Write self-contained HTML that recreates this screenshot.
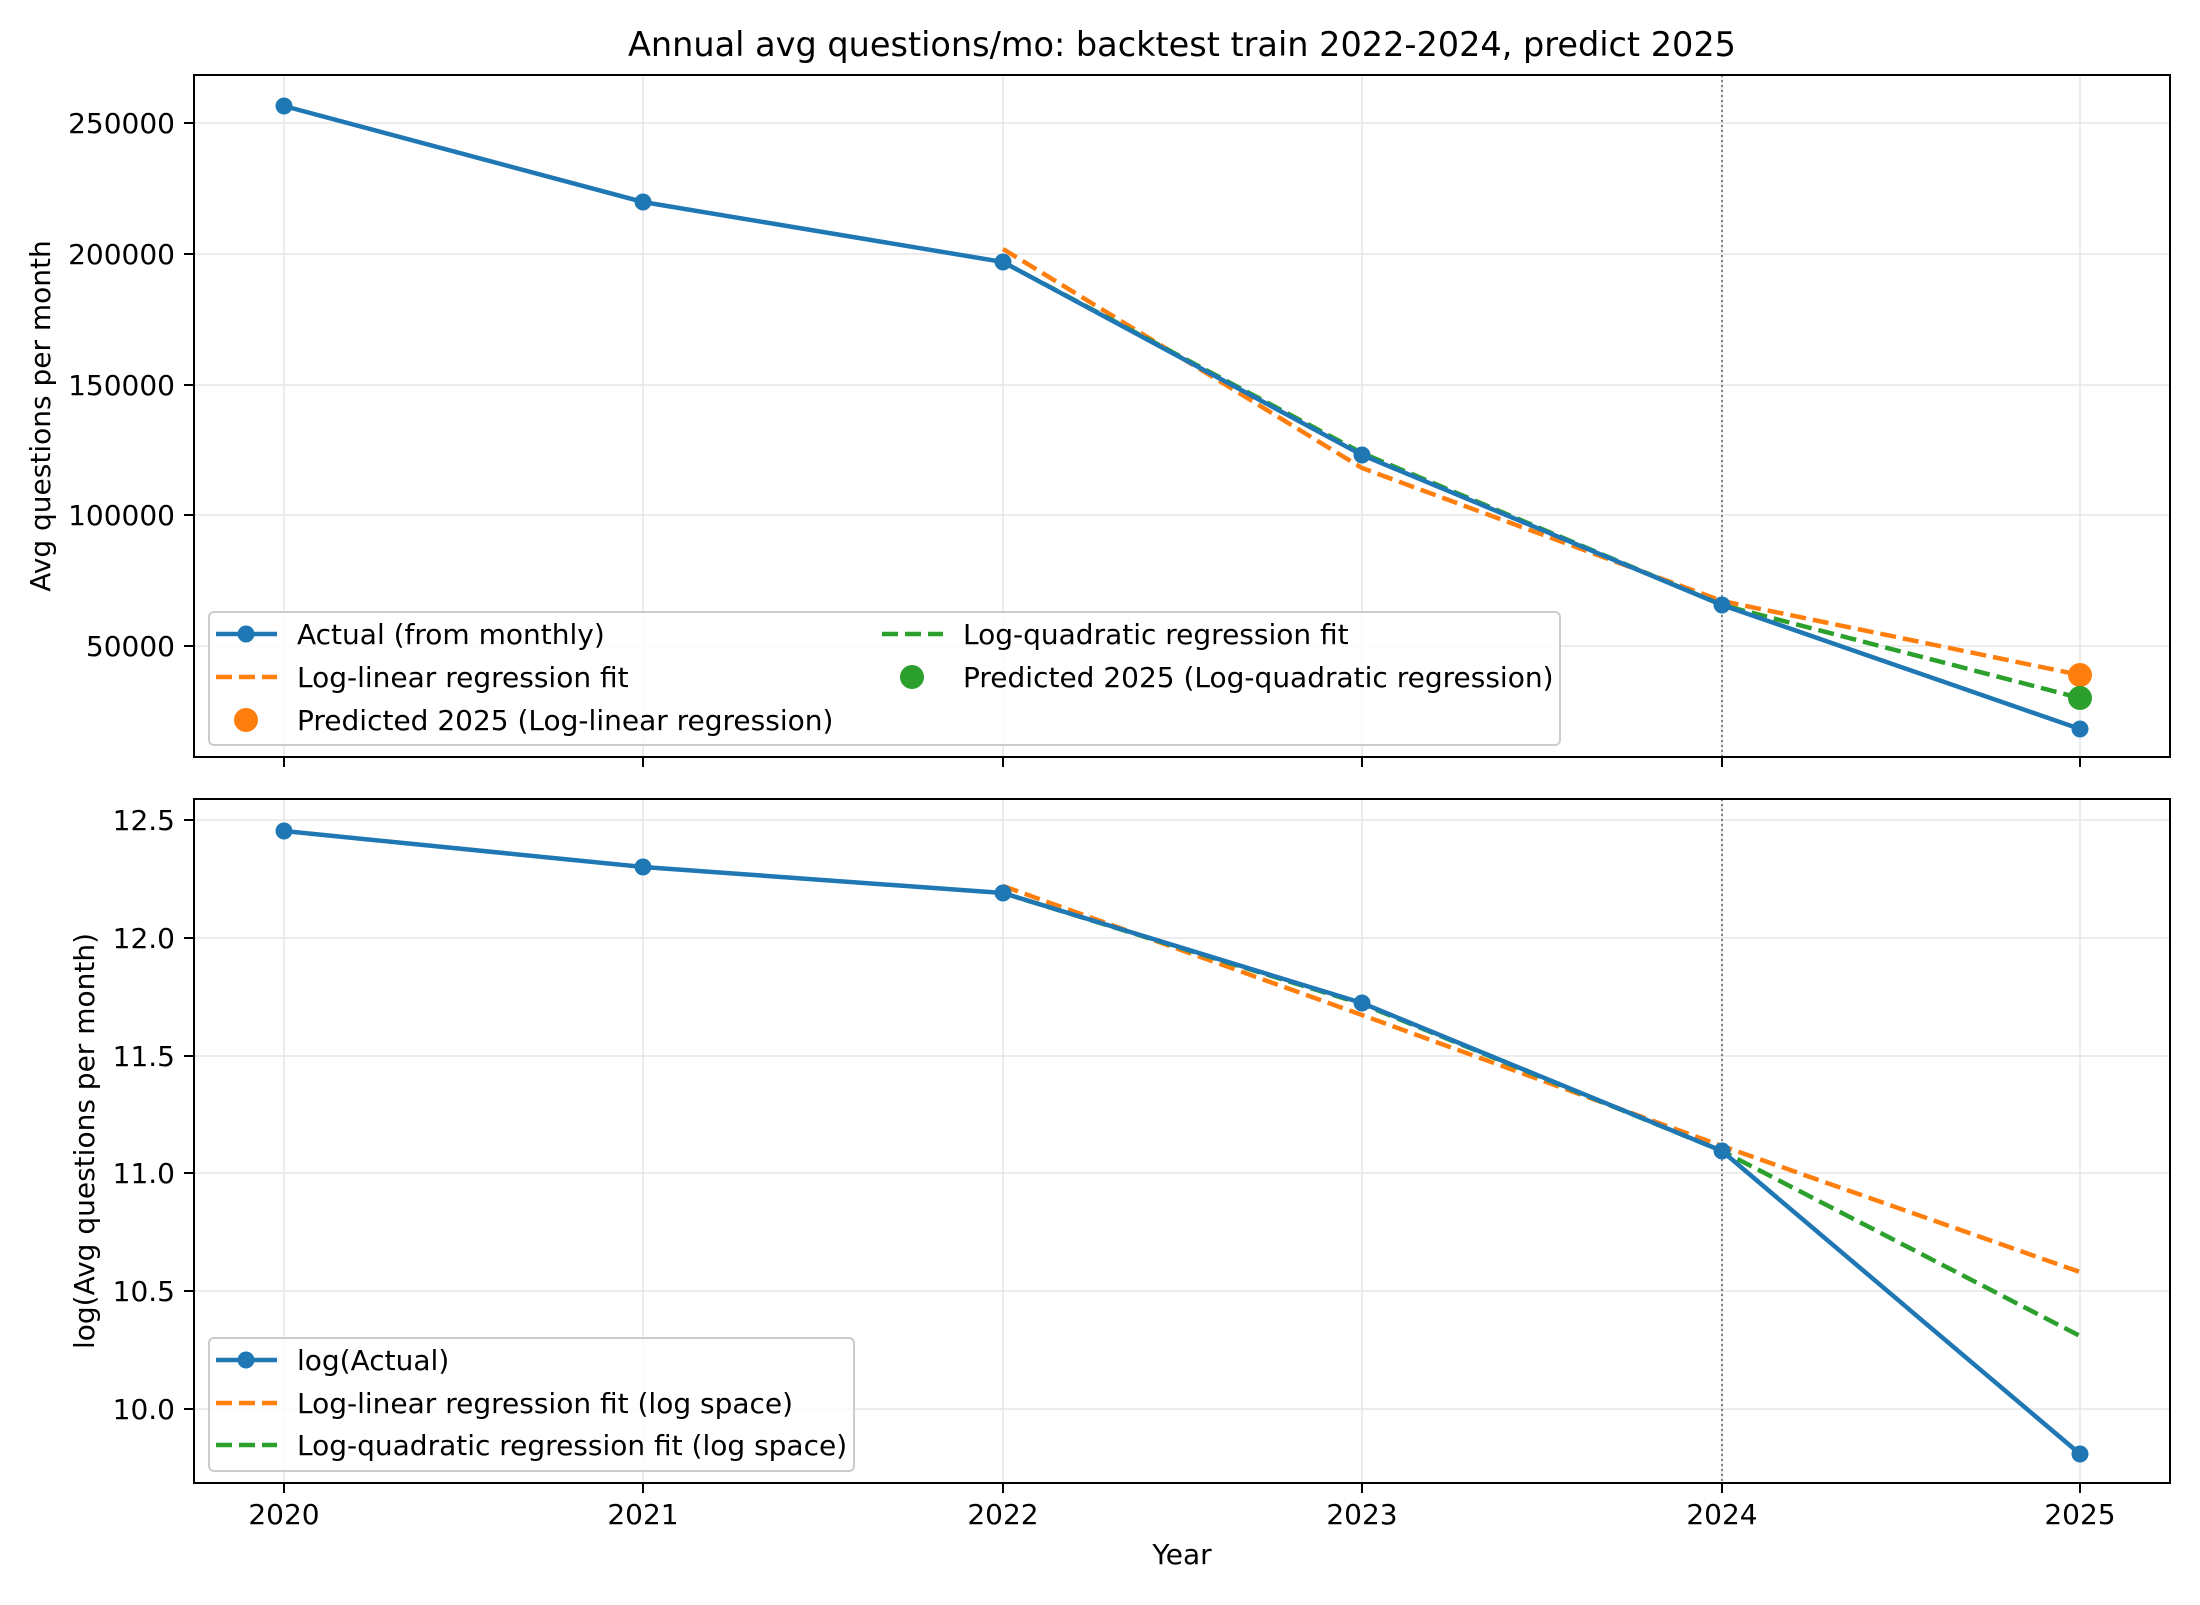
<!DOCTYPE html>
<html><head><meta charset="utf-8"><style>
html,body{margin:0;padding:0;background:#fff;}
svg text{font-family:"DejaVu Sans","Liberation Sans",sans-serif;fill:#000;}
</style></head><body>
<svg width="2200" height="1600" viewBox="0 0 2200 1600" xmlns="http://www.w3.org/2000/svg">
<rect width="2200" height="1600" fill="#fff"/>
<text x="1182" y="56" font-size="33.5" text-anchor="middle">Annual avg questions/mo: backtest train 2022-2024, predict 2025</text>

<!-- TOP AXES -->
<g stroke="#e6e6e6" stroke-width="1.5">
<line x1="284" y1="75" x2="284" y2="757"/><line x1="643" y1="75" x2="643" y2="757"/><line x1="1003" y1="75" x2="1003" y2="757"/><line x1="1362" y1="75" x2="1362" y2="757"/><line x1="1722" y1="75" x2="1722" y2="757"/><line x1="2080" y1="75" x2="2080" y2="757"/>
<line x1="194" y1="123" x2="2170" y2="123"/><line x1="194" y1="254" x2="2170" y2="254"/><line x1="194" y1="385" x2="2170" y2="385"/><line x1="194" y1="515" x2="2170" y2="515"/><line x1="194" y1="646" x2="2170" y2="646"/>
</g>
<line x1="1722" y1="75" x2="1722" y2="757" stroke="#808080" stroke-width="2" stroke-dasharray="2,3"/>
<polyline points="1003,249 1362,468 1722,601 2080,675" fill="none" stroke="#ff7f0e" stroke-width="4.5" stroke-dasharray="16,7"/>
<polyline points="1003,262 1362,453 1722,605 2080,698" fill="none" stroke="#2ca02c" stroke-width="4.5" stroke-dasharray="16,7"/>
<polyline points="284,106 643,202 1003,262 1362,455 1722,605 2080,729" fill="none" stroke="#1f77b4" stroke-width="4.5"/>
<g fill="#1f77b4"><circle cx="284" cy="106" r="8.5"/><circle cx="643" cy="202" r="8.5"/><circle cx="1003" cy="262" r="8.5"/><circle cx="1362" cy="455" r="8.5"/><circle cx="1722" cy="605" r="8.5"/><circle cx="2080" cy="729" r="8.5"/></g>
<circle cx="2080" cy="675" r="12" fill="#ff7f0e"/>
<circle cx="2080" cy="698" r="12" fill="#2ca02c"/>
<rect x="194" y="75" width="1976" height="682" fill="none" stroke="#000" stroke-width="2"/>
<g stroke="#000" stroke-width="2">
<line x1="184" y1="123" x2="194" y2="123"/><line x1="184" y1="254" x2="194" y2="254"/><line x1="184" y1="385" x2="194" y2="385"/><line x1="184" y1="515" x2="194" y2="515"/><line x1="184" y1="646" x2="194" y2="646"/>
<line x1="284" y1="757" x2="284" y2="767"/><line x1="643" y1="757" x2="643" y2="767"/><line x1="1003" y1="757" x2="1003" y2="767"/><line x1="1362" y1="757" x2="1362" y2="767"/><line x1="1722" y1="757" x2="1722" y2="767"/><line x1="2080" y1="757" x2="2080" y2="767"/>
</g>
<g font-size="28" text-anchor="end">
<text x="175" y="133">250000</text><text x="175" y="264">200000</text><text x="175" y="395">150000</text><text x="175" y="525">100000</text><text x="175" y="656">50000</text>
</g>
<text transform="translate(50,416) rotate(-90)" font-size="28" text-anchor="middle">Avg questions per month</text>
<rect x="209" y="612" width="1351" height="133" rx="5" fill="#fff" fill-opacity="0.8" stroke="#ccc" stroke-width="2"/>
<line x1="216" y1="634" x2="277" y2="634" stroke="#1f77b4" stroke-width="4.5"/><circle cx="246" cy="634" r="8.5" fill="#1f77b4"/>
<text x="297" y="644" font-size="28">Actual (from monthly)</text>
<line x1="216" y1="677" x2="277" y2="677" stroke="#ff7f0e" stroke-width="4.5" stroke-dasharray="16,7"/>
<text x="297" y="687" font-size="28">Log-linear regression fit</text>
<circle cx="246" cy="720" r="12" fill="#ff7f0e"/>
<text x="297" y="730" font-size="28">Predicted 2025 (Log-linear regression)</text>
<line x1="882" y1="634" x2="943" y2="634" stroke="#2ca02c" stroke-width="4.5" stroke-dasharray="16,7"/>
<text x="963" y="644" font-size="28">Log-quadratic regression fit</text>
<circle cx="912" cy="677" r="12" fill="#2ca02c"/>
<text x="963" y="687" font-size="28">Predicted 2025 (Log-quadratic regression)</text>

<!-- BOTTOM AXES -->
<g stroke="#e6e6e6" stroke-width="1.5">
<line x1="284" y1="799" x2="284" y2="1483"/><line x1="643" y1="799" x2="643" y2="1483"/><line x1="1003" y1="799" x2="1003" y2="1483"/><line x1="1362" y1="799" x2="1362" y2="1483"/><line x1="1722" y1="799" x2="1722" y2="1483"/><line x1="2080" y1="799" x2="2080" y2="1483"/>
<line x1="194" y1="820" x2="2170" y2="820"/><line x1="194" y1="938" x2="2170" y2="938"/><line x1="194" y1="1056" x2="2170" y2="1056"/><line x1="194" y1="1173" x2="2170" y2="1173"/><line x1="194" y1="1291" x2="2170" y2="1291"/><line x1="194" y1="1409" x2="2170" y2="1409"/>
</g>
<line x1="1722" y1="799" x2="1722" y2="1483" stroke="#808080" stroke-width="2" stroke-dasharray="2,3"/>
<polyline points="1003,886 1362,1015 1722,1146 2080,1272" fill="none" stroke="#ff7f0e" stroke-width="4.5" stroke-dasharray="16,7"/>
<polyline points="1003,893 1362,1004 1722,1151 2080,1336" fill="none" stroke="#2ca02c" stroke-width="4.5" stroke-dasharray="16,7"/>
<polyline points="284,831 643,867 1003,893 1362,1003 1722,1151 2080,1454" fill="none" stroke="#1f77b4" stroke-width="4.5"/>
<g fill="#1f77b4"><circle cx="284" cy="831" r="8.5"/><circle cx="643" cy="867" r="8.5"/><circle cx="1003" cy="893" r="8.5"/><circle cx="1362" cy="1003" r="8.5"/><circle cx="1722" cy="1151" r="8.5"/><circle cx="2080" cy="1454" r="8.5"/></g>
<rect x="194" y="799" width="1976" height="684" fill="none" stroke="#000" stroke-width="2"/>
<g stroke="#000" stroke-width="2">
<line x1="184" y1="820" x2="194" y2="820"/><line x1="184" y1="938" x2="194" y2="938"/><line x1="184" y1="1056" x2="194" y2="1056"/><line x1="184" y1="1173" x2="194" y2="1173"/><line x1="184" y1="1291" x2="194" y2="1291"/><line x1="184" y1="1409" x2="194" y2="1409"/>
<line x1="284" y1="1483" x2="284" y2="1493"/><line x1="643" y1="1483" x2="643" y2="1493"/><line x1="1003" y1="1483" x2="1003" y2="1493"/><line x1="1362" y1="1483" x2="1362" y2="1493"/><line x1="1722" y1="1483" x2="1722" y2="1493"/><line x1="2080" y1="1483" x2="2080" y2="1493"/>
</g>
<g font-size="28" text-anchor="end">
<text x="175" y="830">12.5</text><text x="175" y="948">12.0</text><text x="175" y="1066">11.5</text><text x="175" y="1183">11.0</text><text x="175" y="1301">10.5</text><text x="175" y="1419">10.0</text>
</g>
<g font-size="28" text-anchor="middle">
<text x="284" y="1524">2020</text><text x="643" y="1524">2021</text><text x="1003" y="1524">2022</text><text x="1362" y="1524">2023</text><text x="1722" y="1524">2024</text><text x="2080" y="1524">2025</text>
</g>
<text x="1182" y="1564" font-size="28" text-anchor="middle">Year</text>
<text transform="translate(94,1141) rotate(-90)" font-size="28" text-anchor="middle">log(Avg questions per month)</text>
<rect x="209" y="1338" width="645" height="133" rx="5" fill="#fff" fill-opacity="0.8" stroke="#ccc" stroke-width="2"/>
<line x1="216" y1="1360" x2="277" y2="1360" stroke="#1f77b4" stroke-width="4.5"/><circle cx="246" cy="1360" r="8.5" fill="#1f77b4"/>
<text x="297" y="1370" font-size="28">log(Actual)</text>
<line x1="216" y1="1403" x2="277" y2="1403" stroke="#ff7f0e" stroke-width="4.5" stroke-dasharray="16,7"/>
<text x="297" y="1413" font-size="28">Log-linear regression fit (log space)</text>
<line x1="216" y1="1445" x2="277" y2="1445" stroke="#2ca02c" stroke-width="4.5" stroke-dasharray="16,7"/>
<text x="297" y="1455" font-size="28">Log-quadratic regression fit (log space)</text>
</svg>
</body></html>
